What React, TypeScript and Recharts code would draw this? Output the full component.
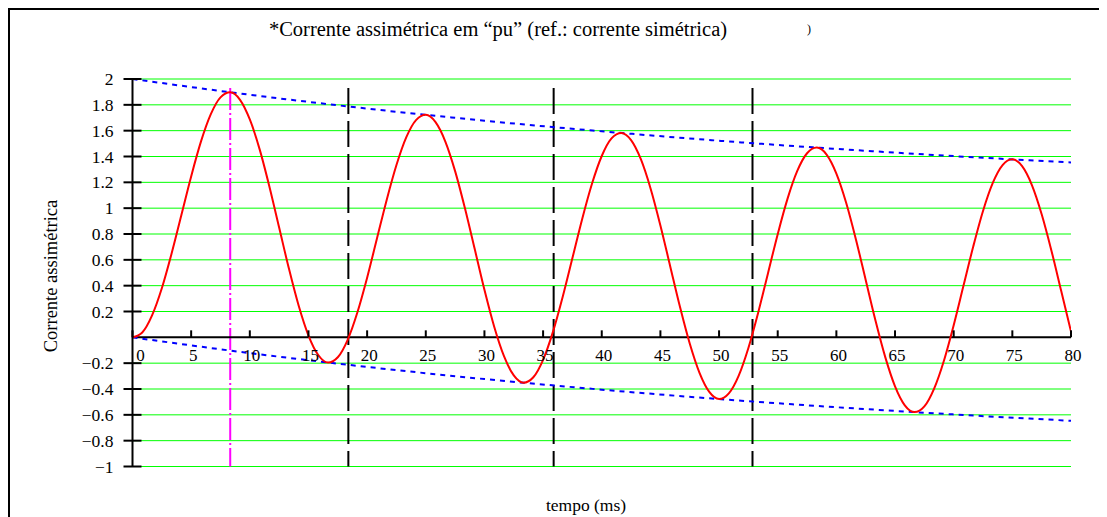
import React from 'react';
import { ComposedChart, Line, XAxis, YAxis, CartesianGrid, ReferenceLine, ReferenceDot } from 'recharts';

// time axis (ms)
const timeMs = [0, 0.833, 1.667, 2.5, 3.333, 4.167, 5, 5.833, 6.667, 7.5, 8.333, 9.167, 10, 10.833, 11.667, 12.5, 13.333, 14.167, 15, 15.833, 16.667, 17.5, 18.333, 19.167, 20, 20.833, 21.667, 22.5, 23.333, 24.167, 25, 25.833, 26.667, 27.5, 28.333, 29.167, 30, 30.833, 31.667, 32.5, 33.333, 34.167, 35, 35.833, 36.667, 37.5, 38.333, 39.167, 40, 40.833, 41.667, 42.5, 43.333, 44.167, 45, 45.833, 46.667, 47.5, 48.333, 49.167, 50, 50.833, 51.667, 52.5, 53.333, 54.167, 55, 55.833, 56.667, 57.5, 58.333, 59.167, 60, 60.833, 61.667, 62.5, 63.333, 64.167, 65, 65.833, 66.667, 67.5, 68.333, 69.167, 70, 70.833, 71.667, 72.5, 73.333, 74.167, 75, 75.833, 76.667, 77.5, 78.333, 79.167, 80];

// asymmetric current (pu)
const current = [
  0, 0.038, 0.170, 0.380, 0.649, 0.947, 1.246, 1.515, 1.726, 1.858,
  1.897, 1.839, 1.687, 1.457, 1.168, 0.850, 0.532, 0.244, 0.014, -0.137,
  -0.195, -0.154, -0.021, 0.192, 0.462, 0.763, 1.064, 1.334, 1.548, 1.682,
  1.723, 1.666, 1.516, 1.287, 1.001, 0.685, 0.368, 0.082, -0.146, -0.295,
  -0.351, -0.309, -0.174, 0.040, 0.312, 0.614, 0.917, 1.189, 1.404, 1.540,
  1.582, 1.527, 1.379, 1.151, 0.866, 0.551, 0.236, -0.048, -0.275, -0.423,
  -0.478, -0.434, -0.298, -0.082, 0.191, 0.495, 0.799, 1.072, 1.288, 1.425,
  1.469, 1.415, 1.268, 1.042, 0.758, 0.444, 0.130, -0.153, -0.379, -0.526,
  -0.579, -0.535, -0.397, -0.181, 0.094, 0.399, 0.703, 0.978, 1.195, 1.333,
  1.378, 1.325, 1.179, 0.953, 0.671, 0.358, 0.045,
];

// envelopes
const envTime = [0, 10, 20, 30, 40, 50, 60, 70, 80];
const envUpper = [2, 1.878, 1.771, 1.677, 1.595, 1.522, 1.459, 1.403, 1.354];
const envLower = [0, -0.122, -0.229, -0.323, -0.405, -0.478, -0.541, -0.597, -0.646];

// axis ticks
const xTicks = [0, 5, 10, 15, 20, 25, 30, 35, 40, 45, 50, 55, 60, 65, 70, 75, 80];
const yTicks = [-1, -0.8, -0.6, -0.4, -0.2, 0.2, 0.4, 0.6, 0.8, 1, 1.2, 1.4, 1.6, 1.8, 2];

// vertical markers (ms)
const blackMarks = [18.4, 35.9, 52.85];
const magentaMarks = [8.33];
const markTop = 1.93;
const markBottom = -1;

const FONT = '"Liberation Serif", "Times New Roman", serif';

const rows = timeMs.map((t, k) => ({ t, i: current[k] }));
const envRows = envTime.map((t, k) => ({ t, up: envUpper[k], lo: envLower[k] }));

const fmt = (v: number) => (v < 0 ? '\u2212' + String(-v) : String(v));

const YTick = (props: any) => {
  const { x, y, payload } = props;
  return (
    <g>
      <line x1={x - 9} x2={x + 9} y1={y} y2={y} stroke="#000" strokeWidth={2} />
      <text x={x - 19} y={y} dy={6} textAnchor="end" fontSize={17.5} fontFamily={FONT} fill="#000">
        {fmt(payload.value)}
      </text>
    </g>
  );
};

const XTick = ({ cx, cy, value }: { cx: number; cy: number; value: number }) => (
  <g>
    <line x1={cx} x2={cx} y1={cy} y2={cy - 7} stroke="#000" strokeWidth={2} />
    <text x={cx + (value === 0 ? 8 : 2)} y={cy + 24} textAnchor="middle" fontSize={17} fontFamily={FONT} fill="#000">
      {String(value)}
    </text>
  </g>
);

export default function App() {
  return (
    <div style={{ position: 'relative', width: 1095, height: 509, background: '#fff' }}>
      <ComposedChart width={1095} height={505} margin={{ top: 71, right: 32, bottom: 46.5, left: 0 }}>
        <CartesianGrid vertical={false} stroke="#00ff00" strokeWidth={1} />
        <XAxis type="number" dataKey="t" domain={[0, 80]} ticks={xTicks} hide allowDataOverflow />
        <YAxis
          type="number"
          domain={[-1, 2]}
          ticks={yTicks}
          interval={0}
          width={124.5}
          axisLine={{ stroke: '#000', strokeWidth: 2 }}
          tickLine={false}
          tickSize={0}
          tickMargin={0}
          tick={<YTick />}
          allowDataOverflow
        />
        {magentaMarks.map((x) => (
          <ReferenceLine
            key={'m' + x}
            segment={[{ x, y: markTop }, { x, y: markBottom }]}
            stroke="#ff00ff"
            strokeWidth={2}
            strokeDasharray="22 3 2 3"
            ifOverflow="visible"
          />
        ))}
        {blackMarks.map((x) => (
          <ReferenceLine
            key={'b' + x}
            segment={[{ x, y: markTop }, { x, y: markBottom }]}
            stroke="#000"
            strokeWidth={2}
            strokeDasharray="26 7"
            ifOverflow="visible"
          />
        ))}
        <ReferenceLine y={0} stroke="#000" strokeWidth={2} ifOverflow="visible" />
        <Line data={envRows} dataKey="up" type="monotone" stroke="#0000ff" strokeWidth={2} strokeDasharray="5 5" dot={false} isAnimationActive={false} />
        <Line data={envRows} dataKey="lo" type="monotone" stroke="#0000ff" strokeWidth={2} strokeDasharray="5 5" dot={false} isAnimationActive={false} />
        <Line data={rows} dataKey="i" type="monotone" stroke="#ff0000" strokeWidth={2} dot={false} isAnimationActive={false} />
        {xTicks.map((v) => (
          <ReferenceDot
            key={'xt' + v}
            x={v}
            y={0}
            r={0}
            ifOverflow="visible"
            shape={(p: any) => <XTick cx={p.cx} cy={p.cy} value={v} />}
          />
        ))}
      </ComposedChart>
      <svg
        width={1095}
        height={509}
        style={{ position: 'absolute', left: 0, top: 0, pointerEvents: 'none', overflow: 'visible' }}
      >
        <line x1={0} x2={1100} y1={1} y2={1} stroke="#000" strokeWidth={2} />
        <line x1={1} x2={1} y1={0} y2={520} stroke="#000" strokeWidth={2} />
        <text x={490} y={28} textAnchor="middle" fontSize={20.5} fontFamily={FONT} fill="#000">
          *Corrente assimétrica em “pu” (ref.: corrente simétrica)
        </text>
        <text x={801} y={25} textAnchor="middle" fontSize={12} fontFamily={FONT} fill="#000">
          )
        </text>
        <text x={578} y={503} textAnchor="middle" fontSize={17.5} fontFamily={FONT} fill="#000">
          tempo (ms)
        </text>
        <text transform="translate(49.3,268) rotate(-90)" x={0} y={0} textAnchor="middle" fontSize={18.5} fontFamily={FONT} fill="#000">
          Corrente assimétrica
        </text>
      </svg>
    </div>
  );
}
